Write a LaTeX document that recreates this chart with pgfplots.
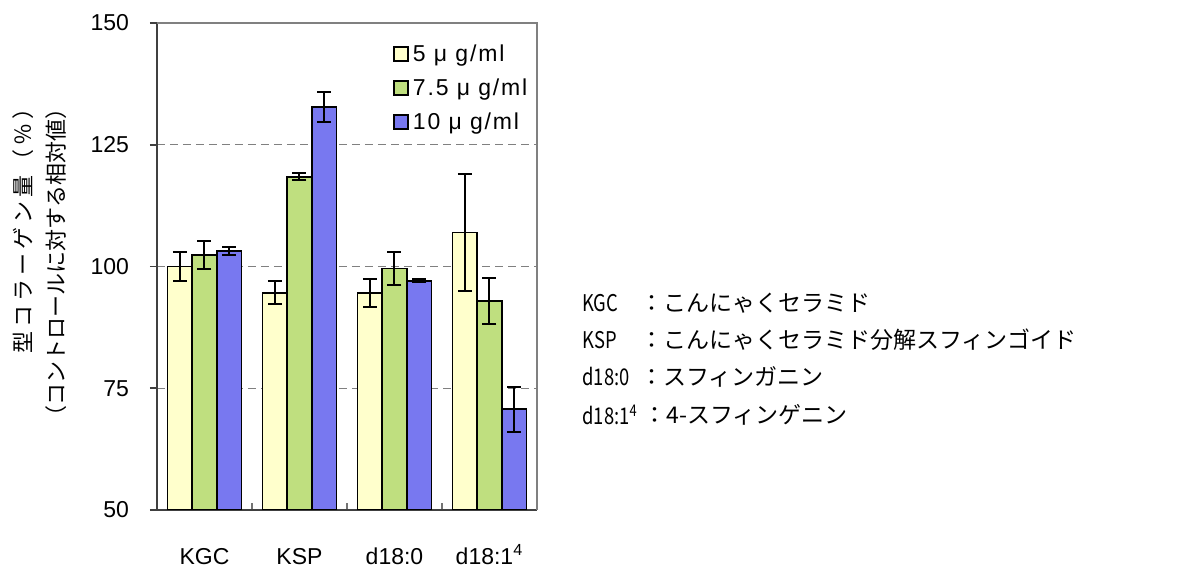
\documentclass[border=0pt]{standalone}
\usepackage{pgfplots}
\pgfplotsset{compat=1.18}
\usepackage{fontspec}
\setmainfont{Liberation Sans}
\newfontfamily\jp{Noto Sans CJK JP}
\newfontfamily\leg[LetterSpace=8]{Liberation Sans}
\definecolor{cy}{HTML}{FFFFCC}
\definecolor{cg}{HTML}{BFDF7F}
\definecolor{cb}{HTML}{7878F0}
\begin{document}
\begin{tikzpicture}[x=1pt,y=1pt]
\useasboundingbox (-78.5pt,-31pt) rectangle (513.5pt,255pt);
\begin{axis}[
  at={(0,0)}, anchor=south west,
  scale only axis, width=190pt, height=243.5pt,
  xmin=-0.5, xmax=3.5, ymin=50, ymax=150,
  ybar=0pt, bar width=0.26, 
  /pgf/number format/assume math mode=true,
  axis x line*=bottom, axis y line*=left,
  axis line style={draw=black!75, line width=1pt},
  tick align=inside, major tick length=3.5pt,
  xtick={0.5,1.5,2.5},
  xticklabels={},
  x tick style={draw=black!55, line width=0.9pt},
  extra x ticks={0,1,2,3},
  extra x tick labels={KGC,KSP,d18:0,{d18:1\textsuperscript{4}}},
  extra x tick style={tick style={draw=none}},
  xticklabel style={font=\fontsize{11.5}{13}\selectfont, text height=9pt, text depth=0pt, anchor=north, yshift=-14.5pt},
  ytick={50,75,100,125,150},
  y tick style={draw=black!75, line width=0.8pt, xshift=-3.5pt},
  yticklabel style={font=\fontsize{11.5}{13}\selectfont, xshift=-10.5pt},
  ymajorgrids, grid style={dash pattern=on 4pt off 2.5pt, draw=gray, line width=0.6pt, xshift=0pt},
  error bars/y dir=both, error bars/y explicit,
  error bars/error bar style={black, line width=1pt},
  error bars/error mark options={rotate=90, mark size=3.5pt, line width=1pt, black},
  legend style={at={(rel axis cs:0.62,0.965)}, anchor=north west, draw=none, fill=none,
    font=\leg\fontsize{11.5}{13}\selectfont, row sep=3.2pt, inner sep=0pt},
  legend cell align=left,
  legend image code/.code={\draw[#1, draw=black, line width=1pt] (0pt,-3.5pt) rectangle (7pt,3.5pt);},
  after end axis/.code={\draw[gray, line width=0.8pt] (rel axis cs:0,1) -- (rel axis cs:1,1) -- (rel axis cs:1,0);},
]
\addplot[fill=cy, draw=black, line width=0.9pt] coordinates {
  (0,100.0) +- (0,3.0)
  (1,94.6) +- (0,2.4)
  (2,94.6) +- (0,2.9)
  (3,107.0) +- (0,12.0)
};
\addlegendentry{5 μ g/ml}
\addplot[fill=cg, draw=black, line width=0.9pt] coordinates {
  (0,102.4) +- (0,2.9)
  (1,118.4) +- (0,0.7)
  (2,99.6) +- (0,3.3)
  (3,92.9) +- (0,4.7)
};
\addlegendentry{7.5 μ g/ml}
\addplot[fill=cb, draw=black, line width=0.9pt] coordinates {
  (0,103.2) +- (0,0.9)
  (1,132.8) +- (0,3.1)
  (2,97.1) +- (0,0.3)
  (3,70.7) +- (0,4.6)
};
\addlegendentry{10 μ g/ml}
\end{axis}
% y label
\node[rotate=90, anchor=east, inner sep=0pt, font=\jp\addfontfeature{LetterSpace=18}\fontsize{11}{13}\selectfont] at (-67pt,206.5pt) {型コラーゲン量（％）};
\node[rotate=90, anchor=east, inner sep=0pt, font=\jp\fontsize{11}{13}\selectfont] at (-50.5pt,206.5pt) {（コントロールに対する相対値）};
% right annotations
\begin{scope}[every node/.style={anchor=west, inner sep=0pt, font=\jp\fontsize{11.5}{13}\selectfont}]
\node at (212.5pt,103.5pt) {\addfontfeature{FakeStretch=0.8}KGC};
\node at (241.5pt,103.5pt) {：こんにゃくセラミド};
\node at (212.5pt,85pt) {\addfontfeature{FakeStretch=0.8}KSP};
\node at (241.5pt,85pt) {：こんにゃくセラミド分解スフィンゴイド};
\node at (212.5pt,66.5pt) {\addfontfeature{FakeStretch=0.8}d18:0};
\node at (241.5pt,66.5pt) {：スフィンガニン};
\node at (212.5pt,47.5pt) {\addfontfeature{FakeStretch=0.8}d18:1\textsuperscript{4}};
\node at (243pt,47.5pt) {：4-スフィンゲニン};
\end{scope}
\end{tikzpicture}
\end{document}
